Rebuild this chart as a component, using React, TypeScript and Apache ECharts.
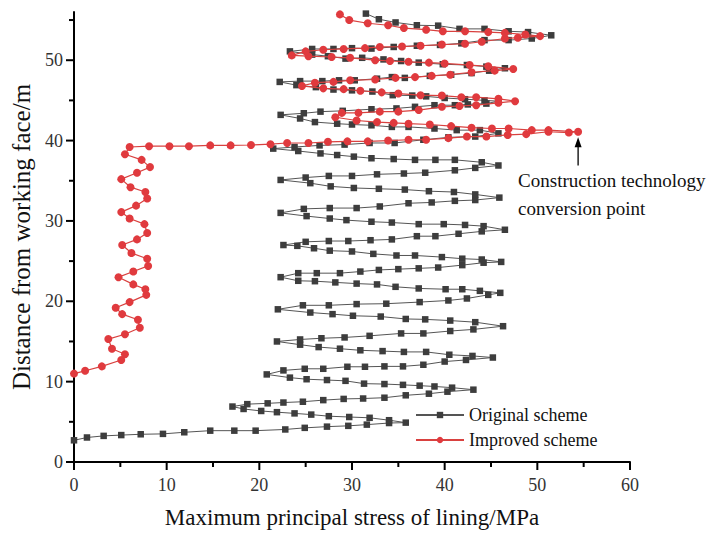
import React, { useEffect, useRef } from "react";
import * as echarts from "echarts";

const seriesNames = ["Original scheme", "Improved scheme"];

const originalScheme: [number, number][] = [
  [0, 2.7], [1.4, 3.05], [3.2, 3.25], [5.1, 3.35], [7.2, 3.45], [9.6, 3.5], [11.9, 3.7], [14.7, 3.9], [17.3, 3.9], [19.6, 3.9], [22.8, 4.05], [24.9, 4.25], [27.3, 4.4], [29.6, 4.5], [31.6, 4.65], [34.0, 4.85], [35.8, 4.9],
  [34.0, 5.2], [31.9, 5.5], [29.7, 5.6], [27.5, 5.7], [25.6, 5.9], [23.8, 6.05], [21.9, 6.2], [20.2, 6.35], [18.3, 6.6], [17.1, 6.9],
  [18.7, 7.2], [20.9, 7.3], [22.6, 7.4], [24.7, 7.5], [26.9, 7.7], [29.1, 7.85], [31.2, 7.9], [33.5, 8.0], [35.8, 8.3], [38.3, 8.5], [40.3, 8.75], [43.1, 9.0],
  [40.8, 9.25], [38.9, 9.4], [37.3, 9.5], [35.5, 9.6], [33.5, 9.7], [31.3, 9.75], [29.3, 10.1], [27.3, 10.2], [25.1, 10.3], [23.3, 10.5], [20.8, 10.9],
  [22.6, 11.4], [24.9, 11.6], [26.9, 11.6], [29.5, 11.85], [31.4, 11.85], [33.5, 11.9], [35.5, 11.9], [37.7, 12.1], [40.0, 12.5], [42.3, 12.7], [45.2, 13.0],
  [43.0, 13.2], [40.5, 13.35], [38.0, 13.7], [35.6, 13.7], [33.3, 13.8], [30.9, 13.9], [28.7, 14.1], [26.4, 14.3], [24.4, 14.6], [21.9, 15.0],
  [24.4, 15.25], [26.7, 15.4], [29.2, 15.5], [31.9, 15.7], [35.3, 16.0], [37.7, 16.0], [40.6, 16.3], [43.1, 16.5], [46.3, 16.9],
  [43.3, 17.4], [40.6, 17.6], [37.9, 17.75], [35.8, 17.8], [33.1, 18.1], [30.1, 18.2], [27.9, 18.4], [25.5, 18.6], [22.0, 19.0],
  [24.7, 19.5], [27.5, 19.5], [30.5, 19.65], [33.7, 19.7], [37.3, 19.9], [40.4, 20.1], [42.4, 20.35], [44.7, 20.8], [46.0, 21.05],
  [43.8, 21.3], [41.9, 21.5], [40.1, 21.5], [37.2, 21.6], [34.7, 21.8], [32.7, 22.1], [30.5, 22.2], [28.2, 22.35], [26.0, 22.5], [24.2, 22.55], [22.3, 23.0],
  [24.2, 23.5], [26.2, 23.5], [28.7, 23.5], [30.9, 23.7], [32.9, 23.9], [35.0, 24.0], [37.2, 24.1], [39.3, 24.2], [41.9, 24.5], [44.2, 24.8], [46.1, 24.9],
  [44.0, 25.2], [41.9, 25.3], [39.7, 25.5], [36.8, 25.7], [34.8, 25.7], [32.3, 25.9], [30.0, 26.2], [27.6, 26.3], [25.9, 26.6], [24.1, 26.9], [22.6, 27.0],
  [25.0, 27.4], [27.5, 27.5], [29.6, 27.5], [32.0, 27.6], [34.3, 27.7], [37.0, 28.1], [39.0, 28.1], [41.5, 28.4], [44.0, 28.7], [46.5, 28.9],
  [44.2, 29.35], [42.2, 29.5], [39.9, 29.6], [37.2, 29.6], [34.3, 29.8], [32.1, 29.9], [29.4, 30.1], [27.6, 30.3], [25.1, 30.6], [22.3, 31.0],
  [24.8, 31.5], [27.6, 31.6], [30.5, 31.6], [33.0, 31.8], [36.1, 32.2], [38.6, 32.3], [41.1, 32.5], [43.3, 32.6], [45.9, 32.9],
  [43.3, 33.3], [41.0, 33.6], [38.3, 33.7], [35.7, 33.9], [32.9, 34.0], [30.2, 34.1], [27.7, 34.3], [25.5, 34.7], [22.3, 35.1],
  [25.0, 35.4], [27.5, 35.6], [30.0, 35.6], [32.7, 35.8], [35.6, 35.9], [37.9, 36.0], [41.1, 36.3], [43.3, 36.6], [45.8, 36.9],
  [44.0, 37.3], [41.1, 37.6], [39.0, 37.6], [36.8, 37.6], [34.5, 37.7], [32.1, 37.8], [30.2, 38.0], [28.4, 38.2], [26.6, 38.4], [24.2, 38.7], [21.5, 39.0],
  [23.8, 39.2], [26.5, 39.4], [29.2, 39.5], [31.9, 39.7], [34.6, 39.7], [37.7, 40.1], [40.4, 40.4], [43.3, 40.5], [45.8, 40.9],
  [43.8, 41.3], [41.3, 41.3], [38.9, 41.5], [36.1, 41.7], [34.3, 41.7], [32.1, 41.9], [30.0, 42.0], [28.4, 42.1], [26.0, 42.3], [24.4, 42.75], [22.3, 43.2],
  [24.8, 43.4], [26.6, 43.6], [29.0, 43.7], [32.1, 43.9], [34.8, 44.0], [36.8, 44.2], [38.9, 44.4], [41.1, 44.4], [42.5, 44.5], [44.5, 44.6], [45.8, 44.9],
  [44.3, 45.0], [42.2, 45.15], [40.0, 45.3], [38.0, 45.5], [36.5, 45.6], [34.4, 45.65], [32.2, 46.1], [30.0, 46.25], [28.0, 46.35], [26.1, 46.65], [24.0, 46.9], [22.2, 47.3],
  [24.4, 47.4], [26.8, 47.4], [28.6, 47.5], [30.3, 47.5], [32.7, 47.7], [34.3, 47.9], [35.7, 47.8], [38.4, 48.05], [40.7, 48.2], [42.9, 48.4], [44.8, 48.7], [46.5, 49.0],
  [44.5, 49.2], [42.4, 49.4], [39.8, 49.5], [37.2, 49.7], [35.3, 49.9], [33.4, 50.1], [31.1, 50.3], [29.3, 50.2], [27.4, 50.5], [25.7, 50.7], [23.3, 51.1],
  [25.7, 51.4], [28.0, 51.4], [30.0, 51.5], [32.1, 51.45], [34.5, 51.65], [37.0, 51.8], [39.5, 51.9], [41.8, 52.1], [44.3, 52.5], [46.9, 52.5], [49.4, 52.7], [51.5, 53.1],
  [49.0, 53.5], [46.9, 53.6], [44.3, 53.9], [41.6, 53.9], [39.3, 54.3], [37.0, 54.35], [34.7, 54.7], [32.9, 55.1], [31.5, 55.8],
];

const improvedScheme: [number, number][] = [
  [0, 11.0], [1.2, 11.35], [3.0, 11.9], [5.1, 12.7], [5.5, 13.4], [4.1, 14.1], [3.7, 15.3], [5.5, 15.9], [7.1, 16.7], [6.9, 17.7], [5.2, 18.4], [4.5, 19.2], [6.0, 19.9], [7.8, 20.8], [7.7, 21.5], [6.4, 22.1], [4.8, 23.0], [6.4, 23.7], [8.0, 24.4], [7.9, 25.3], [6.2, 26.0], [5.2, 27.0], [6.8, 27.7], [7.9, 28.5], [7.6, 29.6], [6.0, 30.3], [5.1, 31.1], [6.7, 31.9], [7.9, 32.8], [7.7, 33.6], [6.1, 34.2], [5.1, 35.2], [6.8, 36.0], [8.2, 36.7], [7.3, 37.6], [5.5, 38.3], [6.0, 39.2],
  [8.1, 39.3], [10.3, 39.3], [12.4, 39.3], [14.7, 39.4], [16.9, 39.4], [19.1, 39.45], [21.2, 39.55], [23.0, 39.7], [25.3, 39.7], [27.4, 39.85], [29.5, 39.9], [31.7, 39.9], [33.9, 40.0], [36.1, 40.1], [38.0, 40.1], [40.4, 40.3], [42.4, 40.5], [44.5, 40.5], [46.8, 40.7], [48.8, 40.8], [51.2, 41.1], [53.4, 41.0], [54.4, 41.1],
  [51.2, 41.3], [49.4, 41.3], [46.9, 41.5], [45.1, 41.5], [42.9, 41.6], [40.7, 41.8], [38.4, 42.0], [36.1, 42.1], [34.5, 42.2], [32.7, 42.3], [30.5, 42.5], [28.2, 42.9],
  [28.9, 43.45], [30.7, 43.45], [33.0, 43.6], [35.0, 43.6], [37.2, 43.8], [39.7, 44.2], [41.6, 44.3], [43.4, 44.4], [45.8, 44.7], [47.6, 44.9],
  [45.8, 45.2], [43.4, 45.4], [41.8, 45.4], [39.7, 45.6], [37.4, 45.65], [35.0, 45.85], [33.2, 46.0], [30.9, 46.2], [29.1, 46.4], [26.9, 46.5], [24.6, 46.8],
  [26.0, 47.2], [28.0, 47.3], [29.8, 47.5], [32.5, 47.6], [34.7, 47.8], [36.8, 47.9], [38.6, 48.05], [40.6, 48.2], [42.9, 48.5], [45.4, 48.7], [47.4, 48.9],
  [44.7, 49.25], [42.7, 49.4], [40.0, 49.6], [38.3, 49.7], [36.1, 49.8], [34.1, 49.9], [32.5, 50.0], [29.8, 50.3], [27.8, 50.4], [25.3, 50.5], [23.5, 50.6],
  [25.0, 51.1], [26.9, 51.3], [29.1, 51.4], [31.4, 51.5], [33.0, 51.65], [35.4, 51.7], [37.4, 51.8], [39.7, 51.95], [42.2, 52.05], [44.0, 52.3], [46.5, 52.7], [47.9, 52.8], [50.3, 53.0],
  [48.7, 53.2], [46.5, 53.4], [44.7, 53.5], [42.2, 53.6], [39.8, 53.6], [38.0, 53.8], [35.6, 54.0], [33.9, 54.35], [31.7, 54.6], [29.7, 55.0], [28.7, 55.7],
];

const xMajorTicks = [0, 10, 20, 30, 40, 50, 60];
const xMinorTicks = [5, 15, 25, 35, 45, 55];
const yMajorTicks = [0, 10, 20, 30, 40, 50];
const yMinorTicks = [5, 15, 25, 35, 45, 55];
const arrowFrom: [number, number] = [54.4, 36.9];
const arrowTo: [number, number] = [54.4, 40.4];
const annotationLines = ["Construction technology", "conversion point"];

const FONT = "'Liberation Serif', 'Times New Roman', serif";

export default function App() {
  const ref = useRef<HTMLDivElement>(null);
  useEffect(() => {
    document.body.style.margin = "0";
    const chart = echarts.init(ref.current!, null, { renderer: "svg" });
    const axisColor = "#000";
    chart.setOption({
      animation: false,
      backgroundColor: "#ffffff",
      grid: { left: 74, right: 80, top: 12, bottom: 72 },
      xAxis: {
        type: "value",
        min: 0,
        max: 60,
        interval: 10,
        axisLine: { show: true, onZero: false, lineStyle: { color: axisColor, width: 2 } },
        axisTick: { show: false },
        splitLine: { show: false },
        axisLabel: { color: "#333", fontFamily: FONT, fontSize: 18, margin: 14 },
        name: "Maximum principal stress of lining/MPa",
        nameLocation: "middle",
        nameGap: 44,
        nameTextStyle: { color: "#111", fontFamily: FONT, fontSize: 23 },
      },
      yAxis: {
        type: "value",
        min: 0,
        max: 56,
        interval: 10,
        axisLine: { show: true, onZero: false, lineStyle: { color: axisColor, width: 2 } },
        axisTick: { show: false },
        splitLine: { show: false },
        axisLabel: {
          color: "#333",
          fontFamily: FONT,
          fontSize: 18,
          margin: 11,
          formatter: (v: number) => (yMajorTicks.indexOf(v) >= 0 ? String(v) : ""),
        },
        name: "Distance from working face/m",
        nameLocation: "middle",
        nameGap: 38,
        nameRotate: 90,
        nameTextStyle: { color: "#111", fontFamily: FONT, fontSize: 25 },
      },
      legend: {
        orient: "vertical",
        left: 410,
        top: 401,
        itemWidth: 48,
        itemHeight: 8,
        itemGap: 7,
        textStyle: { fontFamily: FONT, fontSize: 18, color: "#111" },
        data: seriesNames,
      },
      series: [
        {
          name: seriesNames[0],
          type: "line",
          data: originalScheme,
          symbol: "rect",
          symbolSize: 6.5,
          itemStyle: { color: "#3d3d3d" },
          lineStyle: { color: "#555", width: 1 },
          z: 2,
        },
        {
          name: seriesNames[1],
          type: "line",
          data: improvedScheme,
          symbol: "circle",
          symbolSize: 8,
          itemStyle: { color: "#e03a3e" },
          lineStyle: { color: "#d9413f", width: 1.2 },
          z: 3,
        },
      ],
    });

    // ticks and arrow placed through the chart's own axis scales
    const px = (v: number) => chart.convertToPixel({ xAxisIndex: 0 }, v) as number;
    const py = (v: number) => chart.convertToPixel({ yAxisIndex: 0 }, v) as number;
    const x0 = px(0);
    const y0 = py(0);
    const els: any[] = [];
    const tick = (x: number, y: number, w: number, h: number) =>
      els.push({ type: "rect", shape: { x, y, width: w, height: h }, style: { fill: axisColor }, z: 10, silent: true });
    xMajorTicks.forEach((v) => tick(px(v) - 1, y0, 2, 8));
    xMinorTicks.forEach((v) => tick(px(v) - 1, y0, 2, 5));
    yMajorTicks.forEach((v) => tick(x0 - 8, py(v) - 1, 8, 2));
    yMinorTicks.forEach((v) => tick(x0 - 5, py(v) - 1, 5, 2));
    const ax = px(arrowFrom[0]);
    const ayFrom = py(arrowFrom[1]);
    const ayTo = py(arrowTo[1]);
    els.push({ type: "line", shape: { x1: ax, y1: ayFrom, x2: ax, y2: ayTo + 6 }, style: { stroke: "#000", lineWidth: 1.3 }, z: 10, silent: true });
    els.push({ type: "polygon", shape: { points: [[ax, ayTo], [ax - 3.5, ayTo + 10], [ax + 3.5, ayTo + 10]] }, style: { fill: "#000" }, z: 10, silent: true });
    els.push({
      type: "text",
      x: ax - 60,
      y: ayFrom + 1,
      style: {
        text: annotationLines.join("\n"),
        fontFamily: FONT,
        fontSize: 19,
        lineHeight: 28,
        fill: "#111",
      },
      z: 10,
      silent: true,
    });
    chart.setOption({ graphic: { elements: els } });
    return () => chart.dispose();
  }, []);
  return <div ref={ref} style={{ width: 710, height: 534, position: "absolute", left: 0, top: 0 }} />;
}
